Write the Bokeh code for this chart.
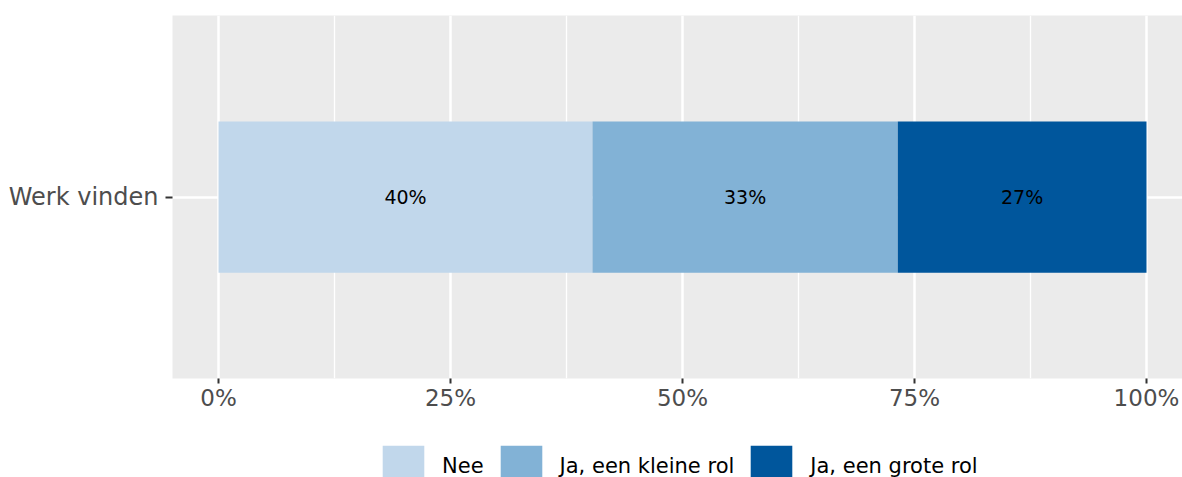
from bokeh.plotting import figure
from bokeh.layouts import column
from bokeh.models import (FactorRange, Range1d, FixedTicker, NumeralTickFormatter,
                          Legend, LegendItem, LabelSet, ColumnDataSource)
from bokeh.core.properties import value
from bokeh.embed import file_html
from bokeh.resources import INLINE

categories = ["Werk vinden"]
answers = ["Nee", "Ja, een kleine rol", "Ja, een grote rol"]
values = [0.403, 0.329, 0.268]
colors = ["#C1D7EB", "#82B2D6", "#00569C"]
x_ticks = [0, 0.25, 0.5, 0.75, 1.0]

FONT = "DejaVu Sans"

y_range = FactorRange(factors=categories, range_padding=0.2)
x_range = Range1d(-0.0496, 1.0388)

p = figure(width=1182, height=440, y_range=y_range, x_range=x_range,
           output_backend="svg", toolbar_location=None,
           min_border_left=172, min_border_right=0,
           min_border_top=15, min_border_bottom=62)

p.background_fill_color = "#EBEBEB"
p.border_fill_color = "white"
p.outline_line_color = None

src_data = {"y": categories}
for a, v in zip(answers, values):
    src_data[a] = [v]
src = ColumnDataSource(src_data)

renderers = p.hbar_stack(answers, y="y", height=0.5, color=colors,
                         line_color=None, source=src)

# segment labels
mids, texts, ys = [], [], []
cum = 0.0
for v in values:
    mids.append(cum + v / 2)
    texts.append(f"{round(v * 100)}%")
    ys.append(categories[0])
    cum += v
lab_src = ColumnDataSource(dict(x=mids, y=ys, text=texts))
p.add_layout(LabelSet(x="x", y="y", text="text", source=lab_src,
                      text_align="center", text_baseline="middle",
                      text_font=value(FONT), text_font_size="19px",
                      text_color="black"))

# axes
minor = [(a + b) / 2 for a, b in zip(x_ticks, x_ticks[1:])]
ticker = FixedTicker(ticks=x_ticks, minor_ticks=minor)
p.xaxis.ticker = ticker
p.xaxis.formatter = NumeralTickFormatter(format="0%")
for ax in (p.xaxis[0], p.yaxis[0]):
    ax.axis_line_color = None
    ax.major_tick_line_color = "#333333"
    ax.major_tick_line_width = 2
    ax.major_tick_in = 0
    ax.minor_tick_line_color = None
    ax.major_label_text_color = "#4D4D4D"
    ax.major_label_text_font = FONT
p.xaxis.major_tick_out = 5
p.yaxis.major_tick_out = 7
p.xaxis.major_label_text_font_size = "23px"
p.xaxis.major_label_standoff = 1
p.yaxis.major_label_text_font_size = "24px"
p.yaxis.major_label_standoff = 7

# grid
p.xgrid.grid_line_color = "white"
p.xgrid.grid_line_width = 2.5
p.xgrid.minor_grid_line_color = "white"
p.xgrid.minor_grid_line_width = 1.3
p.ygrid.grid_line_color = "white"
p.ygrid.grid_line_width = 2.5

# legend strip below the plot
p2 = figure(width=1182, height=37, y_range=y_range, x_range=x_range,
            output_backend="svg", toolbar_location=None,
            x_axis_type=None, y_axis_type=None, min_border=0)
p2.outline_line_color = None
p2.background_fill_color = "white"
p2.border_fill_color = "white"
leg_renderers = p2.hbar_stack(answers, y="y", height=0.5, color=colors,
                              line_color=None, source=src)
for r in leg_renderers:
    r.visible = False

legend = Legend(items=[LegendItem(label=a, renderers=[r]) for a, r in zip(answers, leg_renderers)],
                orientation="horizontal", location=(205, -15),
                glyph_width=52, glyph_height=52, label_standoff=13, spacing=11,
                padding=0, margin=0, border_line_color=None,
                background_fill_alpha=0, inactive_fill_alpha=0,
                label_text_font=FONT, label_text_font_size="21px",
                label_text_color="black")
p2.add_layout(legend, "center")

layout = column(p, p2, spacing=0)
open("out.html", "w").write(file_html(layout, INLINE))
